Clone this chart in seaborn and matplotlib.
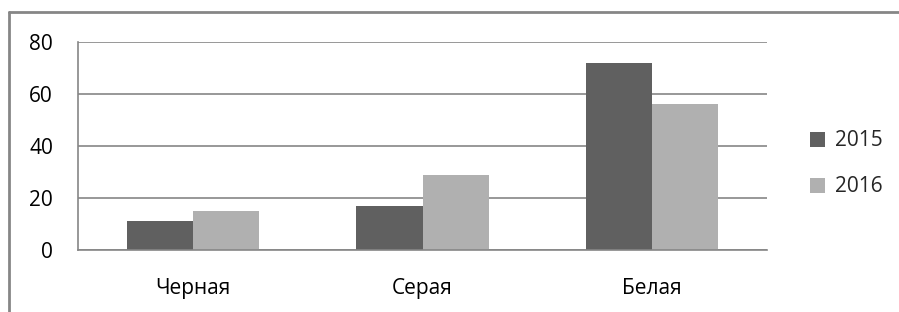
import matplotlib
matplotlib.use("Agg")
import matplotlib.pyplot as plt
import seaborn as sns
import pandas as pd
from matplotlib.lines import Line2D
from matplotlib.patches import Patch

categories = ["Черная", "Серая", "Белая"]
years = ["2015", "2016"]
values_2015 = [11, 17, 72]
values_2016 = [15, 29, 56]
yticks = [0, 20, 40, 60, 80]

df = pd.DataFrame({
    "cat": categories * 2,
    "year": [years[0]] * 3 + [years[1]] * 3,
    "val": values_2015 + values_2016,
})

sns.set_theme(style="white")
plt.rcParams["font.family"] = ["Open Sans", "DejaVu Sans"]

W, H = 899, 312
fig = plt.figure(figsize=(W / 100, H / 100), dpi=100)
ax = fig.add_axes([78 / W, 1 - 250 / H, (767 - 78) / W, (250 - 42) / H])

colors = {"2015": "#606060", "2016": "#b0b0b0"}
sns.barplot(data=df, x="cat", y="val", hue="year", palette=colors,
            width=0.575, ax=ax, legend=False, saturation=1, linewidth=0)

FS = 15
ax.set_ylim(0, 80)
ax.set_xlim(-0.5, 2.5)
ax.set_yticks(yticks)
ax.set_yticklabels([str(v) for v in yticks])
ax.yaxis.grid(True, color="#868686", linewidth=1.2)
ax.set_axisbelow(True)
for s in ["top", "right"]:
    ax.spines[s].set_visible(False)
for s in ["left", "bottom"]:
    ax.spines[s].set_color("#868686")
    ax.spines[s].set_linewidth(1.2)
ax.set_xlabel("")
ax.set_ylabel("")
ax.tick_params(axis="both", length=0, labelsize=FS, colors="#000000")
ax.tick_params(axis="y", pad=18)
ax.tick_params(axis="x", pad=20)

handles = [Patch(facecolor=colors[y], edgecolor="none", label=y) for y in years]
fig.legend(handles=handles, loc="center left", bbox_to_anchor=(791 / W, 1 - 164 / H),
           frameon=False, fontsize=FS, handlelength=0.75, handleheight=0.75,
           handletextpad=0.45, labelspacing=1.2)

# outer chart frame (top and left edges visible)
fig.add_artist(Line2D([9 / W, 1.0], [1 - 12 / H, 1 - 12 / H], transform=fig.transFigure,
                      color="#868686", linewidth=2))
fig.add_artist(Line2D([9 / W, 9 / W], [0, 1 - 12 / H], transform=fig.transFigure,
                      color="#868686", linewidth=2))

fig.savefig("out.png", dpi=100)
